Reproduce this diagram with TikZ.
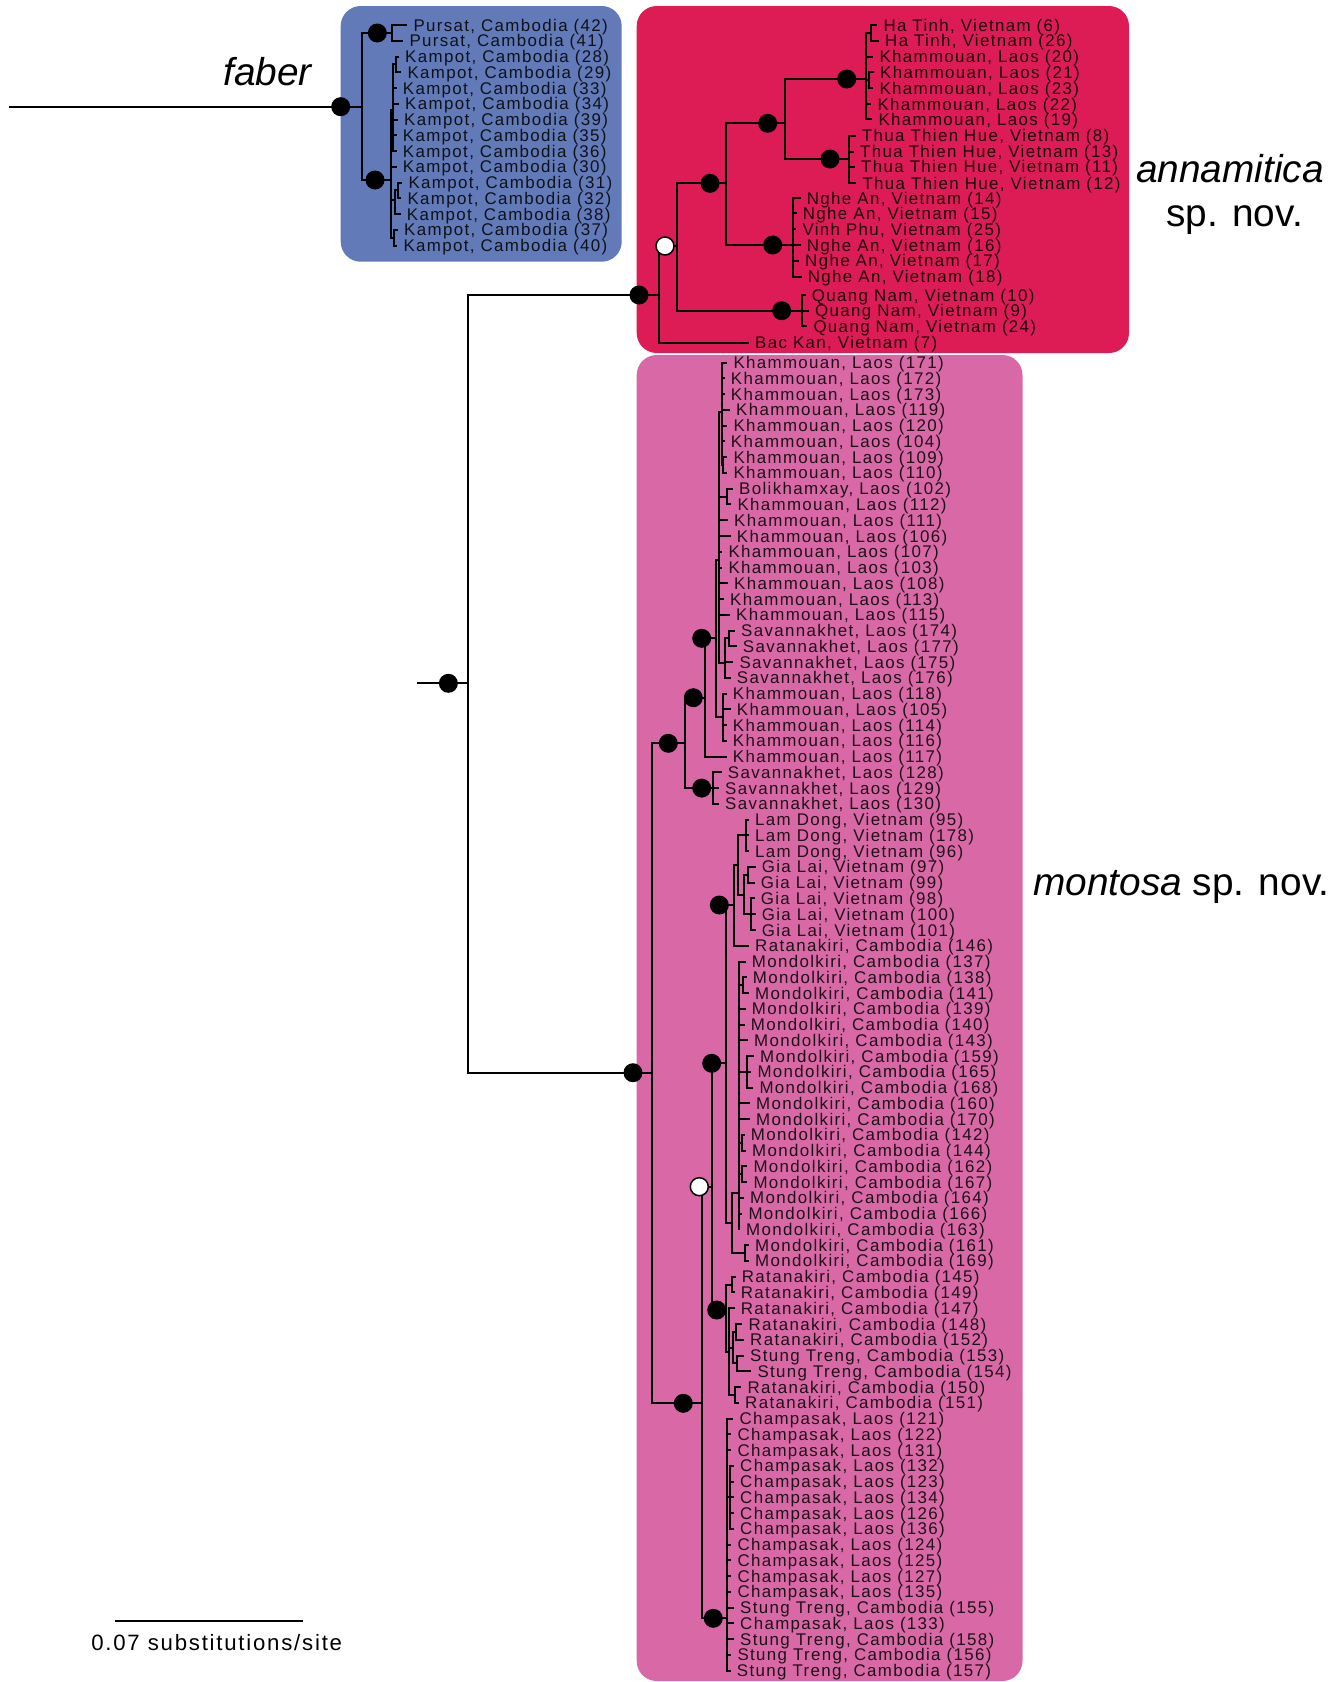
\documentclass[tikz,border=0pt]{standalone}
\usepackage{fontspec}
\setmainfont{Liberation Sans}
\newfontfamily\labfont[LetterSpace=8]{Liberation Sans}
\definecolor{faberbox}{RGB}{99,122,185}
\definecolor{annbox}{RGB}{221,28,85}
\definecolor{monbox}{RGB}{217,105,166}
\tikzset{
  br/.style={line width=2pt, line cap=rect},
  lab/.style={anchor=west, inner sep=0pt, text height=12.1pt, text depth=0pt,
    font=\labfont\fontsize{16.9}{18}\selectfont, text=black, text opacity=0.86},
  bdot/.style={circle, fill=black, minimum size=19pt, inner sep=0pt},
  wdot/.style={circle, fill=white, draw=black, line width=1.5pt, minimum size=18pt, inner sep=0pt},
  big/.style={inner sep=0pt, font=\fontsize{38.8}{44}\selectfont},
  cladebox/.style={rounded corners=20pt}
}
\newcommand\tipl[5]{\node[lab] (#1) at (#4,#3) {#5};\draw[br] (#2) |- ([xshift=-7pt]#1.west);}
\begin{document}
\begin{tikzpicture}[x=1pt,y=-1pt]
\fill[white] (0,0) rectangle (1344,1682);
\useasboundingbox (0,0) rectangle (1344,1682);
% clade boxes
\fill[faberbox,cladebox] (340.7,6) rectangle (621.7,261.7);
\fill[annbox,cladebox] (636.7,6) rectangle (1129,353);
\fill[monbox,cladebox] (636.7,355) rectangle (1022.5,1681);
% ---------------- faber ----------------
\coordinate (fr) at (10,106.7);
\coordinate (fab) at (361.7,106.7);
\coordinate (pur) at (391.7,33);
\coordinate (kam) at (390.7,180);
\coordinate (kaA) at (393.3,110);
\coordinate (k2829) at (396,64.4);
\coordinate (kaB) at (395,200);
\coordinate (k3132) at (398.3,190.4);
\coordinate (k3740) at (394,237.7);
\draw[br] (fr) -- (fab);
\draw[br] (fab) |- (pur);
\draw[br] (fab) |- (kam);
\draw[br] (kam) |- (kaA);
\draw[br] (kaA) |- (k2829);
\draw[br] (kam) |- (kaB);
\draw[br] (kaB) |- (k3132);
\draw[br] (kam) |- (k3740);
\tipl{fa42}{pur}{25}{413.3}{Pursat, Cambodia (42)}
\tipl{fa41}{pur}{40.7}{409.3}{Pursat, Cambodia (41)}
\tipl{fa28}{k2829}{56.5}{405}{Kampot, Cambodia (28)}
\tipl{fa29}{k2829}{72.3}{407.3}{Kampot, Cambodia (29)}
\tipl{fa33}{kaA}{88}{402.7}{Kampot, Cambodia (33)}
\tipl{fa34}{kaA}{103.8}{405}{Kampot, Cambodia (34)}
\tipl{fa39}{kaA}{119.5}{404}{Kampot, Cambodia (39)}
\tipl{fa35}{kaA}{135.3}{402.7}{Kampot, Cambodia (35)}
\tipl{fa36}{kaA}{151}{402.7}{Kampot, Cambodia (36)}
\tipl{fa30}{kam}{166.8}{402.7}{Kampot, Cambodia (30)}
\tipl{fa31}{k3132}{182.5}{408.3}{Kampot, Cambodia (31)}
\tipl{fa32}{k3132}{198.3}{407.3}{Kampot, Cambodia (32)}
\tipl{fa38}{kaB}{214}{406.7}{Kampot, Cambodia (38)}
\tipl{fa37}{k3740}{229.8}{404}{Kampot, Cambodia (37)}
\tipl{fa40}{k3740}{245.5}{403.3}{Kampot, Cambodia (40)}
% ---------------- root of annamitica + montosa ----------------
\coordinate (rr) at (418.4,683.3);
\coordinate (root) at (467.7,683.3);
\coordinate (ann) at (658.5,295);
\coordinate (mon) at (652.3,1072.7);
\draw[br] (rr) -- (root);
\draw[br] (root) |- (ann);
\draw[br] (root) |- (mon);
% ---------------- annamitica ----------------
\coordinate (wn) at (676.7,246);
\coordinate (nA) at (726,183.3);
\coordinate (nB) at (785,123.3);
\coordinate (nC) at (866,79);
\coordinate (cHT) at (871,33);
\coordinate (c2123) at (869,80);
\coordinate (nD) at (849,159);
\coordinate (nE) at (793.3,245);
\coordinate (nF) at (801.7,310.7);
\draw[br] (ann) |- (wn);
\draw[br] (wn) |- (nA);
\draw[br] (wn) |- (nF);
\draw[br] (nA) |- (nB);
\draw[br] (nA) |- (nE);
\draw[br] (nB) |- (nC);
\draw[br] (nB) |- (nD);
\draw[br] (nC) |- (cHT);
\draw[br] (nC) |- (c2123);
\tipl{an6}{cHT}{25}{883.3}{Ha Tinh, Vietnam (6)}
\tipl{an26}{cHT}{40.7}{885}{Ha Tinh, Vietnam (26)}
\tipl{an20}{nC}{56.7}{879.3}{Khammouan, Laos (20)}
\tipl{an21}{c2123}{72}{880}{Khammouan, Laos (21)}
\tipl{an23}{c2123}{88}{879.3}{Khammouan, Laos (23)}
\tipl{an22}{nC}{104}{877.3}{Khammouan, Laos (22)}
\tipl{an19}{nC}{119.3}{878.3}{Khammouan, Laos (19)}
\tipl{an8}{nD}{135.7}{861.7}{Thua Thien Hue, Vietnam (8)}
\tipl{an13}{nD}{151.7}{860}{Thua Thien Hue, Vietnam (13)}
\tipl{an11}{nD}{166.7}{861}{Thua Thien Hue, Vietnam (11)}
\tipl{an12}{nD}{183.3}{862.3}{Thua Thien Hue, Vietnam (12)}
\tipl{an14}{nE}{198.3}{806.7}{Nghe An, Vietnam (14)}
\tipl{an15}{nE}{213.3}{802.7}{Nghe An, Vietnam (15)}
\tipl{an25}{nE}{229.3}{802.3}{Vinh Phu, Vietnam (25)}
\tipl{an16}{nE}{245}{806.7}{Nghe An, Vietnam (16)}
\tipl{an17}{nE}{260.7}{805}{Nghe An, Vietnam (17)}
\tipl{an18}{nE}{276.7}{807.7}{Nghe An, Vietnam (18)}
\tipl{an10}{nF}{295}{811.7}{Quang Nam, Vietnam (10)}
\tipl{an9}{nF}{310.7}{815}{Quang Nam, Vietnam (9)}
\tipl{an24}{nF}{326}{813.3}{Quang Nam, Vietnam (24)}
\tipl{an7}{ann}{342.7}{755}{Bac Kan, Vietnam (7)}
% ---------------- montosa: Laos clade ----------------
\coordinate (L1) at (685,743.3);
\coordinate (L2) at (705,697.7);
\coordinate (L3) at (716,638.3);
\coordinate (K) at (719,560);
\coordinate (K1) at (721.7,411.7);
\coordinate (k109) at (723.3,465);
\coordinate (k102) at (727.3,496.5);
\coordinate (SV) at (725,663);
\coordinate (s174) at (729.3,638.4);
\coordinate (K2) at (722.7,716.7);
\coordinate (S3) at (713.3,788.1);
\draw[br] (mon) |- (L1);
\draw[br] (L1) |- (L2);
\draw[br] (L1) |- (S3);
\draw[br] (L2) |- (L3);
\draw[br] (L3) |- (K);
\draw[br] (L3) |- (K2);
\draw[br] (K) |- (K1);
\draw[br] (K1) |- (k109);
\draw[br] (K) |- (k102);
\draw[br] (K) |- (SV);
\draw[br] (SV) |- (s174);
\tipl{m171}{K1}{362.6}{733.3}{Khammouan, Laos (171)}
\tipl{m172}{K1}{378.4}{730.7}{Khammouan, Laos (172)}
\tipl{m173}{K1}{394.1}{730.7}{Khammouan, Laos (173)}
\tipl{m119}{K1}{409.9}{736}{Khammouan, Laos (119)}
\tipl{m120}{K1}{425.6}{733.3}{Khammouan, Laos (120)}
\tipl{m104}{K1}{441.4}{730.7}{Khammouan, Laos (104)}
\tipl{m109}{k109}{457.2}{733.3}{Khammouan, Laos (109)}
\tipl{m110}{k109}{472.9}{733.3}{Khammouan, Laos (110)}
\tipl{m102}{k102}{488.7}{739}{Bolikhamxay, Laos (102)}
\tipl{m112}{k102}{504.4}{737.3}{Khammouan, Laos (112)}
\tipl{m111}{K}{520.2}{734}{Khammouan, Laos (111)}
\tipl{m106}{K}{536.0}{736.7}{Khammouan, Laos (106)}
\tipl{m107}{K}{551.7}{728.3}{Khammouan, Laos (107)}
\tipl{m103}{K}{567.5}{728.3}{Khammouan, Laos (103)}
\tipl{m108}{K}{583.2}{734}{Khammouan, Laos (108)}
\tipl{m113}{K}{599.0}{730}{Khammouan, Laos (113)}
\tipl{m115}{K}{614.8}{736}{Khammouan, Laos (115)}
\tipl{m174}{s174}{630.5}{741}{Savannakhet, Laos (174)}
\tipl{m177}{s174}{646.3}{742.7}{Savannakhet, Laos (177)}
\tipl{m175}{SV}{662.0}{739.3}{Savannakhet, Laos (175)}
\tipl{m176}{SV}{677.8}{736.7}{Savannakhet, Laos (176)}
\tipl{m118}{K2}{693.6}{732.7}{Khammouan, Laos (118)}
\tipl{m105}{K2}{709.3}{736.7}{Khammouan, Laos (105)}
\tipl{m114}{K2}{725.1}{732.7}{Khammouan, Laos (114)}
\tipl{m116}{K2}{740.8}{732.7}{Khammouan, Laos (116)}
\tipl{m117}{L2}{756.6}{732.7}{Khammouan, Laos (117)}
\tipl{m128}{S3}{772.4}{727.7}{Savannakhet, Laos (128)}
\tipl{m129}{S3}{788.1}{725}{Savannakhet, Laos (129)}
\tipl{m130}{S3}{803.9}{725}{Savannakhet, Laos (130)}
% ---------------- montosa: southern clade ----------------
\coordinate (LO) at (702.3,1403.3);
\coordinate (W2) at (711.7,1186.7);
\coordinate (VM) at (726,1063.3);
\coordinate (V) at (734.3,905);
\coordinate (V1) at (738.3,864.7);
\coordinate (LD) at (746,835.4);
\coordinate (GL) at (744.3,894.5);
\coordinate (g97) at (748.3,874.8);
\coordinate (g98) at (750.7,914.2);
\coordinate (M) at (731.7,1223.3);
\coordinate (MB) at (739,1193.3);
\coordinate (m138) at (743,985.1);
\coordinate (m159) at (747.3,1071.8);
\coordinate (m142) at (742,1142.7);
\coordinate (m162) at (742,1174.3);
\coordinate (m161) at (745,1253);
\coordinate (R) at (726,1310);
\coordinate (r145) at (731.7,1284.5);
\coordinate (R2) at (729,1351.5);
\coordinate (R3) at (733,1347.6);
\coordinate (r148) at (736,1331.8);
\coordinate (r153) at (737,1363.3);
\coordinate (r150) at (735,1394.9);
\coordinate (CH) at (727.3,1618.3);
\coordinate (c132) at (730,1497.3);
\draw[br] (mon) |- (LO);
\draw[br] (LO) |- (W2);
\draw[br] (LO) |- (CH);
\draw[br] (W2) |- (VM);
\draw[br] (W2) |- (R);
\draw[br] (VM) |- (V);
\draw[br] (VM) |- (M);
\draw[br] (V) |- (V1);
\draw[br] (V1) |- (LD);
\draw[br] (V1) |- (GL);
\draw[br] (GL) |- (g97);
\draw[br] (GL) |- (g98);
\draw[br] (M) |- (MB);
\draw[br] (M) |- (m161);
\draw[br] (MB) |- (m138);
\draw[br] (MB) |- (m159);
\draw[br] (MB) |- (m142);
\draw[br] (MB) |- (m162);
\draw[br] (R) |- (r145);
\draw[br] (R) |- (R2);
\draw[br] (R2) |- (R3);
\draw[br] (R3) |- (r148);
\draw[br] (R3) |- (r153);
\draw[br] (R2) |- (r150);
\draw[br] (CH) |- (c132);
\tipl{m95}{LD}{819.6}{755}{Lam Dong, Vietnam (95)}
\tipl{m178}{LD}{835.4}{755}{Lam Dong, Vietnam (178)}
\tipl{m96}{LD}{851.2}{755}{Lam Dong, Vietnam (96)}
\tipl{m97}{g97}{866.9}{761.7}{Gia Lai, Vietnam (97)}
\tipl{m99}{g97}{882.7}{760.7}{Gia Lai, Vietnam (99)}
\tipl{m98}{g98}{898.4}{760.7}{Gia Lai, Vietnam (98)}
\tipl{m100}{g98}{914.2}{761.7}{Gia Lai, Vietnam (100)}
\tipl{m101}{g98}{930.0}{761.7}{Gia Lai, Vietnam (101)}
\tipl{m146}{V}{945.7}{755}{Ratanakiri, Cambodia (146)}
\tipl{m137}{MB}{961.5}{751.7}{Mondolkiri, Cambodia (137)}
\tipl{m138t}{m138}{977.2}{752.7}{Mondolkiri, Cambodia (138)}
\tipl{m141}{m138}{993.0}{755}{Mondolkiri, Cambodia (141)}
\tipl{m139}{MB}{1008.8}{751.7}{Mondolkiri, Cambodia (139)}
\tipl{m140}{MB}{1024.5}{750.7}{Mondolkiri, Cambodia (140)}
\tipl{m143}{MB}{1040.3}{754}{Mondolkiri, Cambodia (143)}
\tipl{m159t}{m159}{1056.0}{760}{Mondolkiri, Cambodia (159)}
\tipl{m165}{m159}{1071.8}{757.3}{Mondolkiri, Cambodia (165)}
\tipl{m168}{m159}{1087.6}{759.3}{Mondolkiri, Cambodia (168)}
\tipl{m160}{MB}{1103.3}{756}{Mondolkiri, Cambodia (160)}
\tipl{m170}{MB}{1119.1}{756}{Mondolkiri, Cambodia (170)}
\tipl{m142t}{m142}{1134.8}{750.7}{Mondolkiri, Cambodia (142)}
\tipl{m144}{m142}{1150.6}{752}{Mondolkiri, Cambodia (144)}
\tipl{m162t}{m162}{1166.4}{753.3}{Mondolkiri, Cambodia (162)}
\tipl{m167}{m162}{1182.1}{753.3}{Mondolkiri, Cambodia (167)}
\tipl{m164}{MB}{1197.9}{750}{Mondolkiri, Cambodia (164)}
\tipl{m166}{MB}{1213.6}{748.3}{Mondolkiri, Cambodia (166)}
\tipl{m163}{MB}{1229.4}{746}{Mondolkiri, Cambodia (163)}
\tipl{m161t}{m161}{1245.2}{755}{Mondolkiri, Cambodia (161)}
\tipl{m169}{m161}{1260.9}{755}{Mondolkiri, Cambodia (169)}
\tipl{m145}{r145}{1276.7}{741.7}{Ratanakiri, Cambodia (145)}
\tipl{m149}{r145}{1292.4}{740.7}{Ratanakiri, Cambodia (149)}
\tipl{m147}{R2}{1308.2}{740.7}{Ratanakiri, Cambodia (147)}
\tipl{m148}{r148}{1324.0}{748.3}{Ratanakiri, Cambodia (148)}
\tipl{m152}{r148}{1339.7}{750}{Ratanakiri, Cambodia (152)}
\tipl{m153}{r153}{1355.5}{750}{Stung Treng, Cambodia (153)}
\tipl{m154}{r153}{1371.2}{757.3}{Stung Treng, Cambodia (154)}
\tipl{m150}{r150}{1387.0}{747.3}{Ratanakiri, Cambodia (150)}
\tipl{m151}{r150}{1402.8}{745}{Ratanakiri, Cambodia (151)}
\tipl{m121}{CH}{1418.5}{739.3}{Champasak, Laos (121)}
\tipl{m122}{CH}{1434.3}{737.3}{Champasak, Laos (122)}
\tipl{m131}{CH}{1450.0}{737.3}{Champasak, Laos (131)}
\tipl{m132}{c132}{1465.8}{740}{Champasak, Laos (132)}
\tipl{m123}{c132}{1481.6}{740}{Champasak, Laos (123)}
\tipl{m134}{c132}{1497.3}{740}{Champasak, Laos (134)}
\tipl{m126}{c132}{1513.1}{740}{Champasak, Laos (126)}
\tipl{m136}{c132}{1528.8}{740}{Champasak, Laos (136)}
\tipl{m124}{CH}{1544.6}{737.3}{Champasak, Laos (124)}
\tipl{m125}{CH}{1560.4}{737.3}{Champasak, Laos (125)}
\tipl{m127}{CH}{1576.1}{737.3}{Champasak, Laos (127)}
\tipl{m135}{CH}{1591.9}{737.3}{Champasak, Laos (135)}
\tipl{m155}{CH}{1607.6}{740}{Stung Treng, Cambodia (155)}
\tipl{m133}{CH}{1623.4}{740}{Champasak, Laos (133)}
\tipl{m158}{CH}{1639.2}{740}{Stung Treng, Cambodia (158)}
\tipl{m156}{CH}{1654.9}{737.3}{Stung Treng, Cambodia (156)}
\tipl{m157}{CH}{1670.7}{736.7}{Stung Treng, Cambodia (157)}
% ---------------- support dots ----------------
\node[bdot] (dfab) at (340.7,106.7) {};
\node[bdot] (dpur) at (377.3,33) {};
\node[bdot] (dkam) at (375,180) {};
\node[bdot] (droot) at (448.4,683.3) {};
\node[bdot] (dann) at (639,295) {};
\node[wdot] (dwn) at (665,246) {};
\node[bdot] (dnA) at (710,183.3) {};
\node[bdot] (dnB) at (767.7,123.3) {};
\node[bdot] (dnC) at (846.7,79) {};
\node[bdot] (dnD) at (830,159) {};
\node[bdot] (dnE) at (772.7,245) {};
\node[bdot] (dnF) at (781.7,310.7) {};
\node[bdot] (dmon) at (633,1072.7) {};
\node[bdot] (dL1) at (668.3,743.3) {};
\node[bdot] (dL2) at (693.3,697.7) {};
\node[bdot] (dL3) at (701.7,638.3) {};
\node[bdot] (dS3) at (701.7,788.1) {};
\node[bdot] (dLO) at (683.3,1403.3) {};
\node[wdot] (dW2) at (699.3,1186.7) {};
\node[bdot] (dVM) at (711.7,1063.3) {};
\node[bdot] (dV) at (719.3,905) {};
\node[bdot] (dR) at (716.7,1310) {};
\node[bdot] (dCH) at (713.3,1618.3) {};
% ---------------- clade names ----------------
\node[big, anchor=base east] (tfaber) at (312,85) {\itshape faber};
\node[big, anchor=base] (tann) at (1230,182.7) {\itshape annamitica};
\node[big, anchor=base] (tann2) at (1234.5,226.7) {sp. nov.};
\node[big, anchor=base west] (tmon) at (1033,895) {\textit{montosa} sp. nov.};
% ---------------- scale bar ----------------
\coordinate (sb1) at (115,1620.7);
\coordinate (sb2) at (302.7,1620.7);
\draw[line width=2pt] (sb1) -- (sb2);
\node[inner sep=0pt, anchor=base, font=\labfont\fontsize{22.2}{24}\selectfont] (sbt) at (216.7,1650) {0.07 substitutions/site};
\end{tikzpicture}
\end{document}
